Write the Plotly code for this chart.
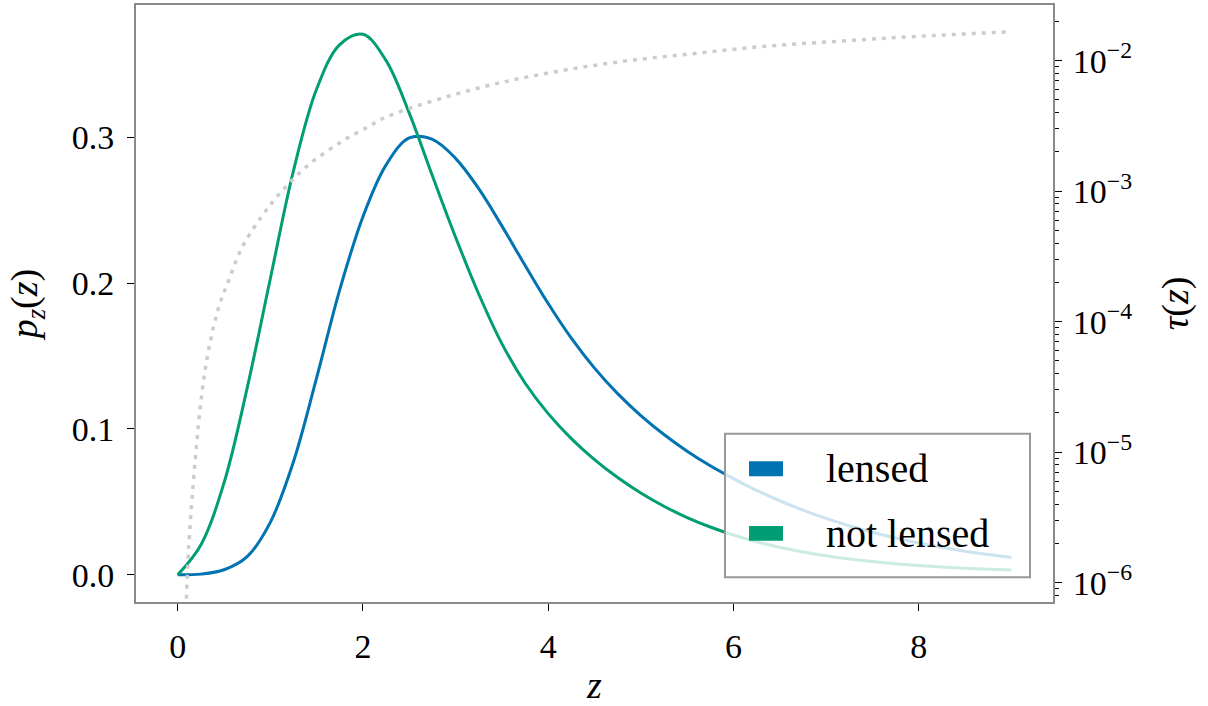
import plotly.graph_objects as go

# Redshift grid shared by both source distributions
z_grid = [0.0, 0.25, 0.5, 0.75, 1.0, 1.25, 1.5, 1.75, 2.0, 2.25, 2.5, 2.75, 3.0,
          3.25, 3.5, 3.75, 4.0, 4.25, 4.5, 4.75, 5.0, 5.25, 5.5, 5.75, 6.0, 6.25,
          6.5, 6.75, 7.0, 7.25, 7.5, 7.75, 8.0, 8.25, 8.5, 8.75, 9.0]

# p_z(z) for lensed sources
p_lensed = [0.0, 0.0005, 0.0035, 0.0125, 0.036, 0.0775, 0.135, 0.1955, 0.2455, 0.281,
            0.2995, 0.2985, 0.2855, 0.2647, 0.2392, 0.2122, 0.1860, 0.1622, 0.1417,
            0.1242, 0.1092, 0.0962, 0.0848, 0.0748, 0.0660, 0.0579, 0.0508, 0.0444,
            0.0387, 0.0337, 0.0292, 0.0253, 0.0219, 0.0189, 0.0162, 0.0139, 0.0119]

# p_z(z) for sources that are not lensed
p_unlensed = [0.0, 0.0205, 0.063, 0.128, 0.203, 0.277, 0.333, 0.3635, 0.3705, 0.3525,
              0.3165, 0.2735, 0.2315, 0.1925, 0.1585, 0.1315, 0.1105, 0.0934, 0.0790,
              0.0667, 0.0561, 0.0470, 0.0393, 0.0328, 0.0273, 0.0227, 0.0189, 0.0157,
              0.0131, 0.0109, 0.0091, 0.0076, 0.0064, 0.0054, 0.0046, 0.0039, 0.0033]

# Lensing optical depth
z_tau = [0.09, 0.117, 0.189, 0.261, 0.333, 0.441, 0.549, 0.693, 0.909, 1.125, 1.413,
         1.773, 2.06, 2.26, 3.16, 3.96, 4.76, 5.56, 6.36, 7.15, 7.96, 8.96]
tau = [6.3e-7, 1.79e-6, 8.7e-6, 2.81e-5, 6.0e-5, 1.28e-4, 2.05e-4, 3.68e-4, 6.43e-4,
       1.0e-3, 1.59e-3, 2.40e-3, 3.12e-3, 3.72e-3, 5.94e-3, 7.94e-3, 9.77e-3,
       1.13e-2, 1.29e-2, 1.41e-2, 1.53e-2, 1.66e-2]

x_ticks = [0, 2, 4, 6, 8]
y_ticks = [0.0, 0.1, 0.2, 0.3]
tau_ticks = [1e-6, 1e-5, 1e-4, 1e-3, 1e-2]
tau_ticktext = ["10<sup>\u22126</sup>", "10<sup>\u22125</sup>", "10<sup>\u22124</sup>",
                "10<sup>\u22123</sup>", "10<sup>\u22122</sup>"]
tau_minor = [m * 10.0 ** e for e in range(-7, -1) for m in range(2, 10)]

legend_labels = ["lensed", "not lensed"]
BLUE = "#0173B2"
GREEN = "#029E73"
FRAME = "#8a8a8a"
FONT = "Liberation Serif"

fig = go.Figure()
fig.add_trace(go.Scatter(x=z_grid, y=p_lensed, mode="lines",
                         line=dict(color=BLUE, width=3, shape="spline", smoothing=1.0),
                         showlegend=False, yaxis="y"))
fig.add_trace(go.Scatter(x=z_grid, y=p_unlensed, mode="lines",
                         line=dict(color=GREEN, width=3, shape="spline", smoothing=1.0),
                         showlegend=False, yaxis="y"))
fig.add_trace(go.Scatter(x=z_tau, y=tau, mode="lines",
                         line=dict(color="#cccccc", width=3.5, dash="4px,6px",
                                   shape="spline", smoothing=1.0),
                         showlegend=False, yaxis="y2"))

tickfont = dict(family=FONT, size=34, color="black")
titlefont = dict(family=FONT, size=38, color="black")

fig.update_layout(
    width=1208, height=706,
    margin=dict(l=136, r=155, t=3, b=103),
    paper_bgcolor="white", plot_bgcolor="white",
    xaxis=dict(range=[-0.45, 9.45], tickvals=x_ticks, ticks="outside", ticklen=7,
               tickwidth=1.3, tickcolor="black", showgrid=False, zeroline=False,
               showline=True, linecolor=FRAME, linewidth=2, mirror=True,
               tickfont=tickfont, ticklabelstandoff=6,
               title=dict(text="<i>z</i>", font=titlefont, standoff=12)),
    yaxis=dict(range=[-0.0186, 0.3906], tickvals=y_ticks, tickformat=".1f",
               ticks="outside", ticklen=7, tickwidth=1.3, tickcolor="black",
               showgrid=False, zeroline=False, showline=True, linecolor=FRAME,
               linewidth=2, mirror=True, tickfont=tickfont, ticklabelstandoff=6,
               title=dict(text="<i>p<sub>z</sub></i>(<i>z</i>)",
                          font=titlefont, standoff=22)),
    yaxis2=dict(type="log", overlaying="y", side="right",
                range=[-6.148, -1.574], tickvals=tau_ticks, ticktext=tau_ticktext,
                ticks="outside", ticklen=7, tickwidth=1.3, tickcolor="black",
                minor=dict(tickvals=tau_minor, ticks="outside", ticklen=4,
                           tickwidth=1, tickcolor="black"),
                showgrid=False, zeroline=False, showline=True, linecolor=FRAME,
                linewidth=2, tickfont=tickfont, ticklabelstandoff=4,
                title=dict(text="<i>\u03c4</i>(<i>z</i>)", font=titlefont, standoff=30)),
    showlegend=False,
)

# Legend box drawn as shapes + annotations (semi-transparent frame)
def px_x(px):
    return (px - 136) / 917.0

def px_y(py):
    return (603 - py) / 600.0

fig.add_shape(type="rect", xref="paper", yref="paper", layer="above",
              x0=px_x(725), x1=px_x(1030), y0=px_y(578), y1=px_y(434),
              fillcolor="rgba(255,255,255,0.8)", line=dict(color="#999999", width=2))
for label, color, cy in zip(legend_labels, [BLUE, GREEN], [469, 534]):
    fig.add_shape(type="rect", xref="paper", yref="paper", layer="above",
                  x0=px_x(749), x1=px_x(783), y0=px_y(cy + 7.5), y1=px_y(cy - 7.5),
                  fillcolor=color, line=dict(width=0))
    fig.add_annotation(text=label, xref="paper", yref="paper", x=px_x(824),
                       y=px_y(cy), xanchor="left", yanchor="middle", showarrow=False,
                       font=dict(family=FONT, size=40, color="black"))

fig.write_html("out.html")
